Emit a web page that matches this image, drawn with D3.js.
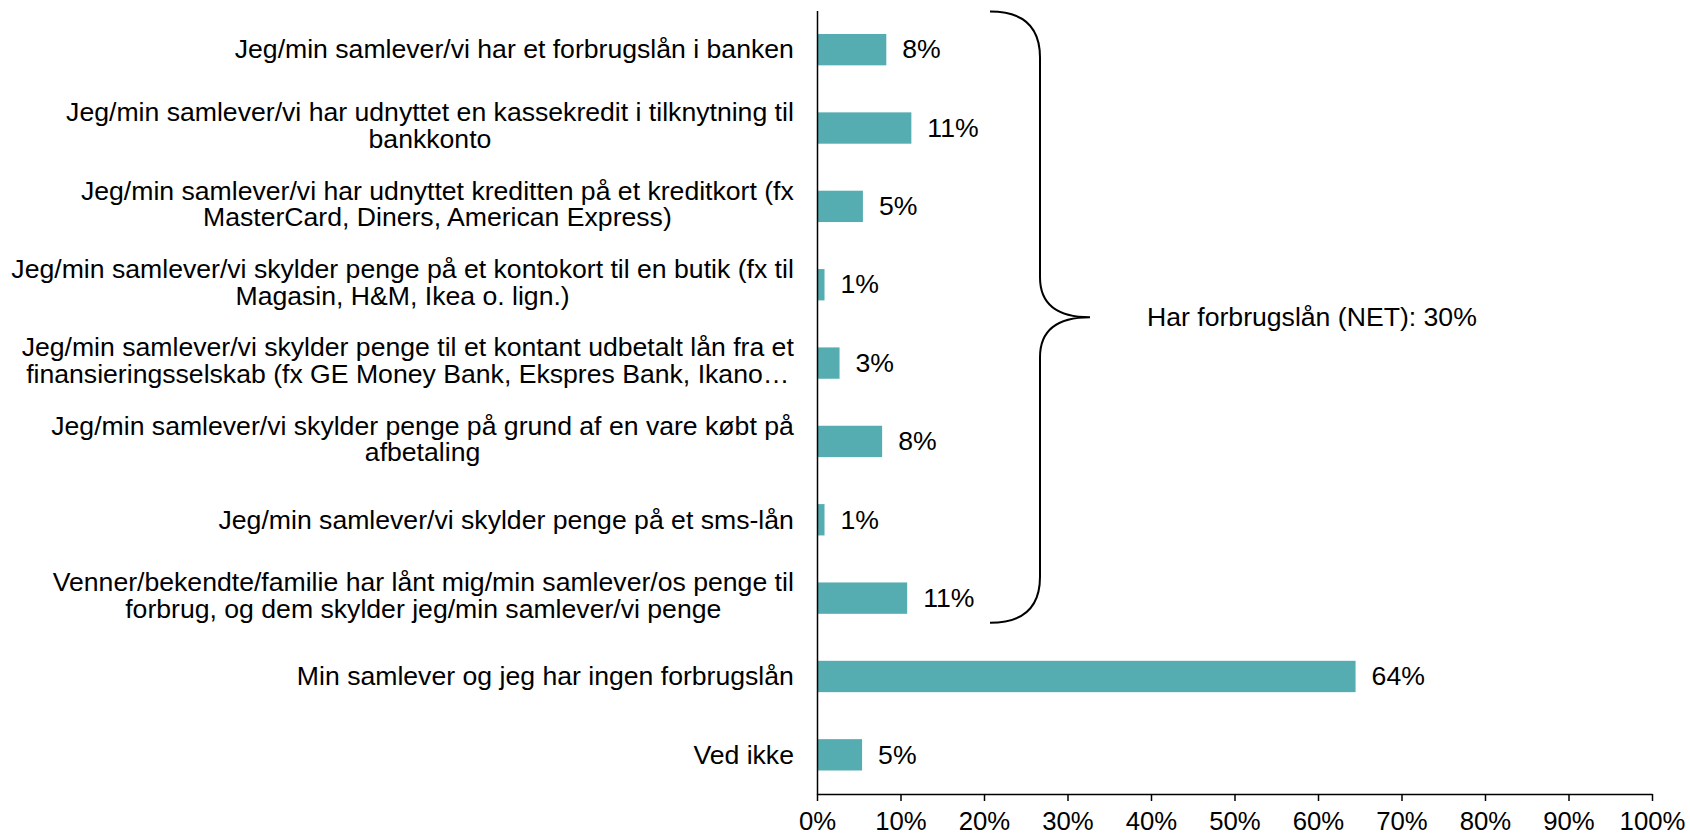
<!DOCTYPE html>
<html>
<head>
<meta charset="utf-8">
<script src="https://cdn.jsdelivr.net/npm/d3@7"></script>
<style>
    html, body { margin: 0; padding: 0; background: #fff; }
    svg text { font-family: "Liberation Sans", Arial, sans-serif; fill: #000; }
</style>
</head>
<body>
<svg id="chart" width="1690" height="836"></svg>
<script>
(function () {
    'use strict';

    // category labels, one entry per line
    const categories = [
        ['Jeg/min samlever/vi har et forbrugslån i banken'],
        ['Jeg/min samlever/vi har udnyttet en kassekredit i tilknytning til', 'bankkonto'],
        ['Jeg/min samlever/vi har udnyttet kreditten på et kreditkort (fx', 'MasterCard, Diners, American Express)'],
        ['Jeg/min samlever/vi skylder penge på et kontokort til en butik (fx til', 'Magasin, H&M, Ikea o. lign.)'],
        ['Jeg/min samlever/vi skylder penge til et kontant udbetalt lån fra et', 'finansieringsselskab (fx GE Money Bank, Ekspres Bank, Ikano…'],
        ['Jeg/min samlever/vi skylder penge på grund af en vare købt på', 'afbetaling'],
        ['Jeg/min samlever/vi skylder penge på et sms-lån'],
        ['Venner/bekendte/familie har lånt mig/min samlever/os penge til', 'forbrug, og dem skylder jeg/min samlever/vi penge'],
        ['Min samlever og jeg har ingen forbrugslån'],
        ['Ved ikke']
    ];
    const values = [8.3, 11.3, 5.5, 0.9, 2.7, 7.8, 0.9, 10.8, 64.5, 5.4];
    const valueLabels = ['8%', '11%', '5%', '1%', '3%', '8%', '1%', '11%', '64%', '5%'];
    const xTicks = [0, 10, 20, 30, 40, 50, 60, 70, 80, 90, 100];
    const netLabel = 'Har forbrugslån (NET): 30%';
    const netFirst = 0;
    const netLast = 7;

    const barColor = '#56adb1';
    const fontSize = 25;
    const stretch = 1.065;     // text in the original is a little wider than Arial
    const tickStretch = 1.03;
    const lineHeight = 26.6;

    const plot = { left: 817, right: 1652, top: 10.5, bottom: 794 };
    const svg = d3.select('#chart');

    const xScale = d3.scaleLinear()
        .domain([0, 100])
        .range([plot.left, plot.right]);
    const yScale = d3.scaleBand()
        .domain(d3.range(categories.length))
        .range([plot.top, plot.bottom])
        .paddingInner(0.6)
        .paddingOuter(0.3);

    // bars
    svg.append('g')
        .selectAll('rect')
        .data(values)
        .join('rect')
            .attr('x', xScale(0))
            .attr('y', (d, i) => yScale(i))
            .attr('width', d => xScale(d) - xScale(0))
            .attr('height', yScale.bandwidth())
            .attr('fill', barColor);

    // value labels
    svg.append('g')
        .selectAll('text')
        .data(values)
        .join('text')
            .attr('transform', (d, i) =>
                `translate(${xScale(d) + 16}, ${yScale(i) + yScale.bandwidth() / 2}) scale(${stretch}, 1)`)
            .attr('dy', '0.35em')
            .attr('font-size', fontSize)
            .text((d, i) => valueLabels[i]);

    // category labels: block right-aligned, lines centred inside it
    const labelRight = plot.left - 23;
    const labels = svg.append('g');
    categories.forEach((lines, i) => {
        const g = labels.append('g');
        const texts = lines.map(line => g.append('text')
            .attr('font-size', fontSize)
            .attr('text-anchor', 'middle')
            .text(line));
        const maxW = d3.max(texts, t => t.node().getComputedTextLength()) * stretch;
        const mid = yScale(i) + yScale.bandwidth() / 2;
        const base = lines.length > 1 ? mid + 6.5 : mid + 8.8;
        texts.forEach((t, j) => {
            const y = base + (j - (lines.length - 1) / 2) * lineHeight;
            t.attr('transform', `translate(${labelRight - maxW / 2}, ${y}) scale(${stretch}, 1)`);
        });
    });

    // axes
    const xAxis = d3.axisBottom(xScale)
        .tickValues(xTicks)
        .tickSize(7)
        .tickSizeOuter(0)
        .tickFormat(d => d + '%');
    const gx = svg.append('g')
        .attr('transform', `translate(0, ${plot.bottom})`)
        .call(xAxis);
    gx.select('.domain').attr('stroke', '#000').attr('stroke-width', 1.5);
    gx.selectAll('.tick line').attr('stroke', '#000').attr('stroke-width', 1.5);
    gx.selectAll('.tick text')
        .attr('font-size', fontSize)
        .attr('font-family', '"Liberation Sans", Arial, sans-serif')
        .attr('fill', '#000')
        .attr('y', 18)
        .attr('transform', `scale(${tickStretch}, 1)`);

    const yAxis = d3.axisLeft(yScale).tickSize(0).tickFormat('');
    const gy = svg.append('g')
        .attr('transform', `translate(${plot.left}, 0)`)
        .call(yAxis);
    gy.select('.domain').attr('stroke', '#000').attr('stroke-width', 1.5);

    // curly brace for the NET group
    const braceTop = plot.top + 1;
    const braceBottom = yScale(netLast) + yScale.bandwidth() + 9;
    const braceMid = (braceTop + braceBottom) / 2;
    const bx0 = 990, bx1 = 1040, bx2 = 1090;
    const r = 46, rm = 40;
    const brace = d3.path();
    brace.moveTo(bx0, braceTop);
    brace.quadraticCurveTo(bx1, braceTop, bx1, braceTop + r);
    brace.lineTo(bx1, braceMid - rm);
    brace.quadraticCurveTo(bx1, braceMid, bx2, braceMid);
    brace.quadraticCurveTo(bx1, braceMid, bx1, braceMid + rm);
    brace.lineTo(bx1, braceBottom - r);
    brace.quadraticCurveTo(bx1, braceBottom, bx0, braceBottom);
    svg.append('path')
        .attr('d', brace.toString())
        .attr('fill', 'none')
        .attr('stroke', '#000')
        .attr('stroke-width', 2);

    svg.append('text')
        .attr('transform', `translate(1147, ${braceMid}) scale(${stretch}, 1)`)
        .attr('dy', '0.36em')
        .attr('font-size', fontSize)
        .text(netLabel);
})();
</script>
</body>
</html>
